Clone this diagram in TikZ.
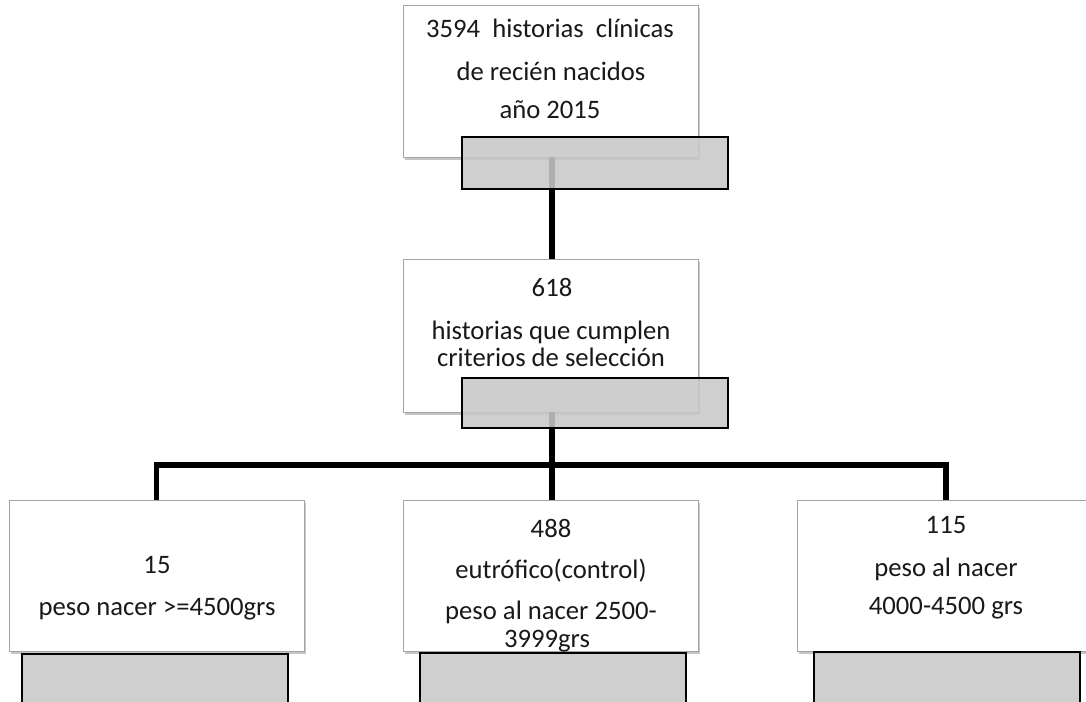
\documentclass[tikz,border=0pt]{standalone}
\usepackage{fontspec}
\setmainfont{Carlito}
\usetikzlibrary{shadows}
\definecolor{grayfill}{RGB}{200,200,200}
\definecolor{boxline}{RGB}{165,165,165}
\tikzset{
  wbox/.style={draw=boxline, line width=0.6pt, fill=white, inner sep=0pt, outer sep=0pt,
    minimum width=295*0.75pt, minimum height=152*0.75pt,
    drop shadow={shadow xshift=1.6pt, shadow yshift=-2.2pt, opacity=0.45}},
  gbox/.style={draw=black, line width=1.3pt, fill=grayfill, fill opacity=0.88, draw opacity=1,
    inner sep=0pt, outer sep=0pt, minimum width=266*0.75pt, minimum height=52*0.75pt},
  txt/.style={anchor=base, inner sep=0pt, text=black!90, font=\fontsize{20}{24}\selectfont},
  conn/.style={line width=3.8pt, black, line join=miter}
}
\begin{document}
\begin{tikzpicture}[x=0.75pt, y=-0.75pt]
\useasboundingbox (0,0) rectangle (1086,702);
\clip (0,0) rectangle (1086,702);
% junction of the branches
\coordinate (j) at (552,465);
% white boxes
\node[wbox] (tb) at (550.5,81) {};
\node[wbox, minimum height=153*0.75pt] (mb) at (550.5,335.5) {};
\node[wbox, minimum height=151*0.75pt] (lb) at (156.5,575.5) {};
\node[wbox, minimum height=151*0.75pt] (bm) at (550.5,575.5) {};
\node[wbox, minimum width=298*0.75pt, minimum height=151*0.75pt] (rb) at (946,575.5) {};
% connectors
\draw[conn] ([xshift=1.5*0.75pt]tb.south) -- ([xshift=1.5*0.75pt]mb.north);
\draw[conn] ([xshift=1.5*0.75pt]mb.south) -- (j);
\draw[conn] (lb.north) |- (j) -| (rb.north);
\draw[conn] (j) -- ([xshift=1.5*0.75pt]bm.north);
% gray tabs
\node[gbox] (tg) at (595,163) {};
\node[gbox, minimum height=50*0.75pt] (mg) at (595,403) {};
\node[gbox, minimum height=60*0.75pt] (lg) at (155,684) {};
\node[gbox, minimum height=60*0.75pt] (bg) at (553,683) {};
\node[gbox, minimum height=60*0.75pt] (rg) at (947,682) {};
% texts
\node[txt] (t1) at (550,38) {3594\ \ historias\ \ clínicas};
\node[txt] (t2) at (551,81) {de recién nacidos};
\node[txt] (t3) at (550,119) {año 2015};
\node[txt] (m1) at (552,297) {618};
\node[txt] (m2) at (551,340) {historias que cumplen};
\node[txt] (m3) at (551,367) {criterios de selección};
\node[txt] (l1) at (157,573) {15};
\node[txt] (l2) at (157,615) {peso nacer >=4500grs};
\node[txt] (c1) at (551,537) {488};
\node[txt] (c2) at (551,578) {eutrófico(control)};
\node[txt] (c3) at (551,619) {peso al nacer 2500-};
\node[txt] (c4) at (547,647) {3999grs};
\node[txt] (r1) at (946,533) {115};
\node[txt] (r2) at (946,576) {peso al nacer};
\node[txt] (r3) at (946,614) {4000-4500 grs};
\end{tikzpicture}
\end{document}
